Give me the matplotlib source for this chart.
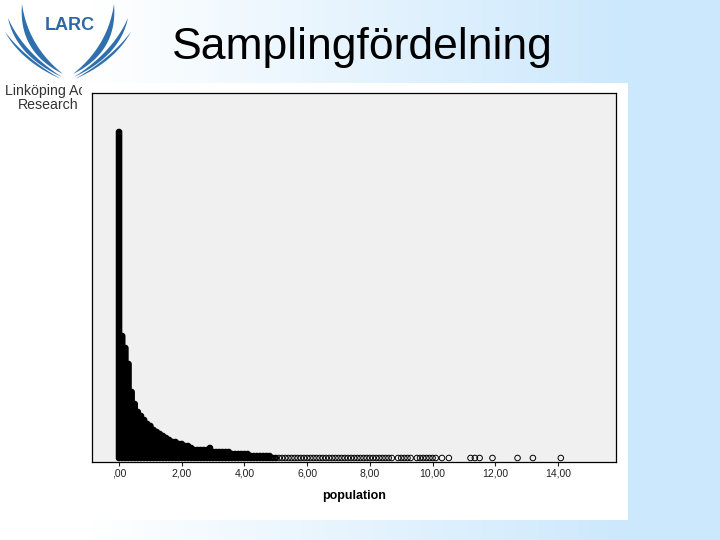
import numpy as np
import matplotlib
matplotlib.use("Agg")
import matplotlib.pyplot as plt
from matplotlib.patches import Rectangle

plt.rcParams["font.family"] = ["Liberation Sans", "DejaVu Sans"]

# Dot plot of the sampling distribution: bin centre -> number of stacked dots
bin_values = [0.0, 0.1, 0.2, 0.3, 0.4, 0.5, 0.6, 0.7, 0.8, 0.9,
              1.0, 1.1, 1.2, 1.3, 1.4, 1.5, 1.6, 1.7, 1.8, 1.9,
              2.0, 2.1, 2.2, 2.3, 2.4, 2.5, 2.6, 2.7, 2.8, 2.9,
              3.0, 3.1, 3.2, 3.3, 3.4, 3.5, 3.6, 3.7, 3.8, 3.9,
              4.0, 4.1, 4.2, 4.3, 4.4, 4.5, 4.6, 4.7, 4.8, 4.9, 5.0]
bin_counts = [164, 62, 56, 48, 34, 28, 24, 22, 20, 18,
              17, 15, 14, 13, 12, 11, 10, 9, 9, 8,
              8, 7, 7, 6, 5, 5, 5, 5, 5, 6,
              4, 4, 4, 4, 4, 4, 3, 3, 3, 3,
              3, 3, 2, 2, 2, 2, 2, 2, 2, 1, 1]

# single dots in the long right tail
tail_values = [5.1, 5.2, 5.3, 5.4, 5.5, 5.6, 5.7, 5.8, 5.9, 6.0,
               6.1, 6.2, 6.3, 6.4, 6.5, 6.6, 6.7, 6.8, 6.9, 7.0,
               7.1, 7.2, 7.3, 7.4, 7.5, 7.6, 7.7, 7.8, 7.9, 8.0,
               8.1, 8.2, 8.3, 8.4, 8.5, 8.6, 8.7, 8.9, 9.0,
               9.1, 9.2, 9.3, 9.5, 9.6, 9.7, 9.8, 9.9, 10.0,
               10.1, 10.3, 10.52, 11.21, 11.35, 11.5, 11.91, 12.71, 13.2, 14.09]

tick_values = [0, 2, 4, 6, 8, 10, 12, 14]
tick_labels = [",00", "2,00", "4,00", "6,00", "8,00", "10,00", "12,00", "14,00"]

# stack the dots
head_x, head_y = [], []
for v, c in zip(bin_values, bin_counts):
    for k in range(1, c + 1):
        head_x.append(v)
        head_y.append(k)
tail_y = [1] * len(tail_values)

fig = plt.figure(figsize=(7.2, 5.4), dpi=100)

# slide background (pixel coordinates)
bg = fig.add_axes([0, 0, 1, 1])
bg.set_xlim(0, 720)
bg.set_ylim(540, 0)
bg.axis("off")
t = np.clip((np.arange(720) - 90) / 540.0, 0, 1)
c0 = np.array([1.0, 1.0, 1.0])
c1 = np.array([0.80, 0.91, 0.99])
grad = c0[None, :] * (1 - t[:, None]) + c1[None, :] * t[:, None]
bg.imshow(grad[None, :, :], extent=(0, 720, 540, 0), aspect="auto", zorder=0)


# logo wings
def quad(p0, p1, p2, n=40):
    s = np.linspace(0, 1, n)[:, None]
    p0, p1, p2 = map(np.array, (p0, p1, p2))
    return (1 - s) ** 2 * p0 + 2 * (1 - s) * s * p1 + s ** 2 * p2


feathers = [
    ((22, 4), (18, 52), (28, 46), (63, 74)),
    ((8, 18), (16, 56), (23, 52), (62, 77)),
    ((5, 32), (22, 62), (26, 59), (61, 79)),
]
for tip, ca, cb, end in feathers:
    for mirror in (False, True):
        a = quad(tip, ca, end)
        b = quad(tip, cb, end)[::-1]
        pts = np.vstack([a, b])
        if mirror:
            pts[:, 0] = 136 - pts[:, 0]
        bg.fill(pts[:, 0], pts[:, 1], color="#2f6fae", lw=0, zorder=2)

bg.text(70, 26, "LARC", fontsize=13, fontweight="bold", color="#2e69a6",
        ha="center", va="center", zorder=3)
bg.text(5, 90.5, "Linköping Ac", fontsize=10.2, color="#333333",
        ha="left", va="center", zorder=3)
bg.text(48, 105, "Research", fontsize=10.2, color="#333333",
        ha="center", va="center", zorder=3)

# white picture box
bg.add_patch(Rectangle((82, 83), 546, 437, facecolor="white", edgecolor="none", zorder=4))

fig.text(172 / 720, 1 - 48 / 540, "Samplingfördelning", fontsize=32,
         ha="left", va="center", color="black")

# chart
ax = fig.add_axes([92 / 720, 1 - 462 / 540, 524 / 720, 369 / 540])
ax.set_facecolor("#f0f0f0")
ax.scatter(head_x, head_y, s=10, facecolors="none", edgecolors="black", linewidths=1.6)
ax.scatter(tail_values, tail_y, s=16, facecolors="none", edgecolors="black", linewidths=0.7)
ax.set_xlim(-0.862, 15.85)
ax.set_ylim(-1, 183.5)
ax.set_yticks([])
ax.set_xticks(tick_values)
ax.set_xticklabels(tick_labels)
ax.tick_params(axis="x", length=3, width=0.8, pad=2, labelsize=7.5, colors="#222222")
for sp in ax.spines.values():
    sp.set_linewidth(0.9)
    sp.set_color("black")
ax.set_xlabel("population", fontsize=9, fontweight="bold", labelpad=8)

plt.savefig("out.png", dpi=100)
